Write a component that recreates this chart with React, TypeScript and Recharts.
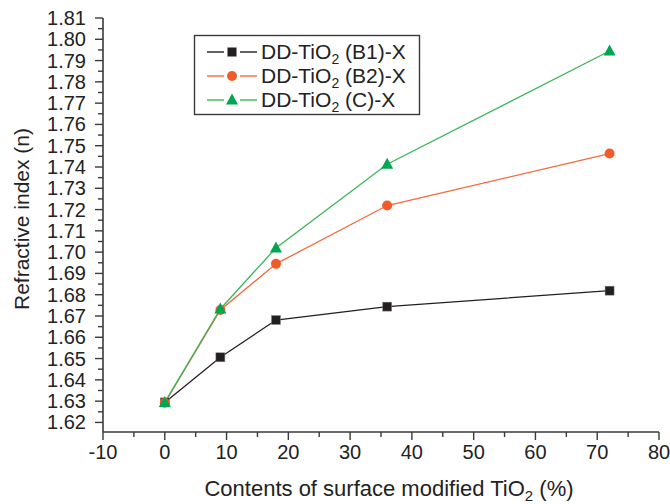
import React from 'react';
import { LineChart, Line, XAxis, YAxis, Label } from 'recharts';

const contents = [0, 9, 18, 36, 72];
const seriesB1 = [1.6294, 1.6506, 1.6681, 1.6744, 1.6819];
const seriesB2 = [1.6292, 1.6728, 1.6945, 1.7219, 1.7463];
const seriesC = [1.6294, 1.6733, 1.7020, 1.7413, 1.7945];

const xMajorTicks = [-10, 0, 10, 20, 30, 40, 50, 60, 70, 80];
const yMajorTicks = [1.62, 1.63, 1.64, 1.65, 1.66, 1.67, 1.68, 1.69, 1.70, 1.71, 1.72, 1.73, 1.74, 1.75, 1.76, 1.77, 1.78, 1.79, 1.80, 1.81];

const xMinorTicks = xMajorTicks.slice(0, -1).map((v) => v + 5);
const yMinorTicks = yMajorTicks.slice(0, -1).map((v) => Math.round((v + 0.005) * 1000) / 1000);
const xTicks = [...xMajorTicks, ...xMinorTicks].sort((a, b) => a - b);
const yTicks = [...yMajorTicks, ...yMinorTicks].sort((a, b) => a - b);

const data = contents.map((x, i) => ({ x, b1: seriesB1[i], b2: seriesB2[i], c: seriesC[i] }));

const FONT = '"Liberation Sans", Arial, sans-serif';
const AXIS = '#3a3a3a';
const BLACK = '#231f20';
const ORANGE = '#f15a29';
const ORANGE_LINE = '#f26a3c';
const GREEN = '#00a651';
const GREEN_LINE = '#3cb55a';

const isMajorX = (v: number) => xMajorTicks.some((m) => Math.abs(m - v) < 1e-6);
const isMajorY = (v: number) => yMajorTicks.some((m) => Math.abs(m - v) < 1e-6);

const XTick = (props: any) => {
  const { x, y, payload } = props;
  const v = payload.value;
  const major = isMajorX(v);
  return (
    <g>
      <line x1={x} x2={x} y1={y} y2={y + (major ? 8 : 5)} stroke={AXIS} strokeWidth={1.4} />
      {major && (
        <text x={x} y={y + 27} textAnchor="middle" fontFamily={FONT} fontSize={20} fill="#222">
          {v}
        </text>
      )}
    </g>
  );
};

const YTick = (props: any) => {
  const { x, y, payload } = props;
  const v = payload.value;
  const major = isMajorY(v);
  return (
    <g>
      <line x1={x} x2={x - (major ? 8 : 5)} y1={y} y2={y} stroke={AXIS} strokeWidth={1.4} />
      {major && (
        <text x={x - 17} y={y + 7} textAnchor="end" fontFamily={FONT} fontSize={20} fill="#222">
          {v.toFixed(2)}
        </text>
      )}
    </g>
  );
};

const XTitle = (props: any) => {
  const vb = props.viewBox || { x: 103, y: 432, width: 556, height: 72 };
  return (
    <text x={vb.x + vb.width / 2 + 8} y={vb.y + 64} textAnchor="middle" fontFamily={FONT} fontSize={22} fill="#222">
      Contents of surface modified TiO
      <tspan fontSize={15} dy={5}>2</tspan>
      <tspan dy={-5}> (%)</tspan>
    </text>
  );
};

const YTitle = (props: any) => {
  const vb = props.viewBox || { x: 0, y: 18, width: 103, height: 414 };
  const cy = vb.y + vb.height / 2 - 6;
  const cx = 29;
  return (
    <text x={cx} y={cy} transform={`rotate(-90 ${cx} ${cy})`} textAnchor="middle" fontFamily={FONT} fontSize={21} fill="#222">
      Refractive index (n)
    </text>
  );
};

const SquareDot = (props: any) => {
  const { cx, cy } = props;
  if (cx == null || cy == null) return null;
  return <rect x={cx - 4.5} y={cy - 4.5} width={9} height={9} fill={BLACK} stroke="#888" strokeWidth={0.5} />;
};

const CircleDot = (props: any) => {
  const { cx, cy } = props;
  if (cx == null || cy == null) return null;
  return <circle cx={cx} cy={cy} r={5} fill={ORANGE} />;
};

const TriDot = (props: any) => {
  const { cx, cy } = props;
  if (cx == null || cy == null) return null;
  return <polygon points={`${cx},${cy - 6.5} ${cx + 6},${cy + 4.5} ${cx - 6},${cy + 4.5}`} fill={GREEN} />;
};

const LegendRow = ({ y, color, lineColor, marker, label }: any) => (
  <g>
    <line x1={207} x2={224} y1={y} y2={y} stroke={lineColor} strokeWidth={1.4} />
    <line x1={240} x2={257} y1={y} y2={y} stroke={lineColor} strokeWidth={1.4} />
    {marker === 'square' && <rect x={227.5} y={y - 4.5} width={9} height={9} fill={color} />}
    {marker === 'circle' && <circle cx={232} cy={y} r={5} fill={color} />}
    {marker === 'tri' && <polygon points={`232,${y - 6.5} 238,${y + 4.5} 226,${y + 4.5}`} fill={color} />}
    <text x={261} y={y + 7} fontFamily={FONT} fontSize={21} fill="#222">
      DD-TiO
      <tspan fontSize={14} dy={5}>2</tspan>
      <tspan dy={-5}> {label}</tspan>
    </text>
  </g>
);

export default function App() {
  return (
    <div style={{ position: 'absolute', left: 0, top: 0, width: 670, height: 504, background: '#fff' }}>
      <LineChart width={670} height={504} data={data} margin={{ top: 18, right: 11, left: 0, bottom: 0 }}>
        <XAxis
          dataKey="x"
          type="number"
          domain={[-10, 80]}
          ticks={xTicks}
          interval={0}
          tick={<XTick />}
          tickLine={false}
          tickSize={0}
          tickMargin={0}
          height={72}
          axisLine={{ stroke: AXIS, strokeWidth: 1.6 }}
        >
          <Label content={<XTitle />} />
        </XAxis>
        <YAxis
          type="number"
          domain={[1.6155, 1.81]}
          ticks={yTicks}
          interval={0}
          tick={<YTick />}
          tickLine={false}
          tickSize={0}
          tickMargin={0}
          width={103}
          allowDataOverflow
          axisLine={{ stroke: AXIS, strokeWidth: 1.6 }}
        >
          <Label content={<YTitle />} />
        </YAxis>
        <Line dataKey="b1" type="linear" stroke={BLACK} strokeWidth={1.3} dot={<SquareDot />} isAnimationActive={false} />
        <Line dataKey="b2" type="linear" stroke={ORANGE_LINE} strokeWidth={1.3} dot={<CircleDot />} isAnimationActive={false} />
        <Line dataKey="c" type="linear" stroke={GREEN_LINE} strokeWidth={1.3} dot={<TriDot />} isAnimationActive={false} />
      </LineChart>
      <svg width={670} height={504} style={{ position: 'absolute', left: 0, top: 0, pointerEvents: 'none' }}>
        <rect x={194.5} y={35.5} width={225} height={79} fill="#fff" stroke={AXIS} strokeWidth={1.4} />
        <LegendRow y={52} color={BLACK} lineColor={BLACK} marker="square" label="(B1)-X" />
        <LegendRow y={76} color={ORANGE} lineColor={ORANGE_LINE} marker="circle" label="(B2)-X" />
        <LegendRow y={100} color={GREEN} lineColor={GREEN_LINE} marker="tri" label="(C)-X" />
      </svg>
    </div>
  );
}
